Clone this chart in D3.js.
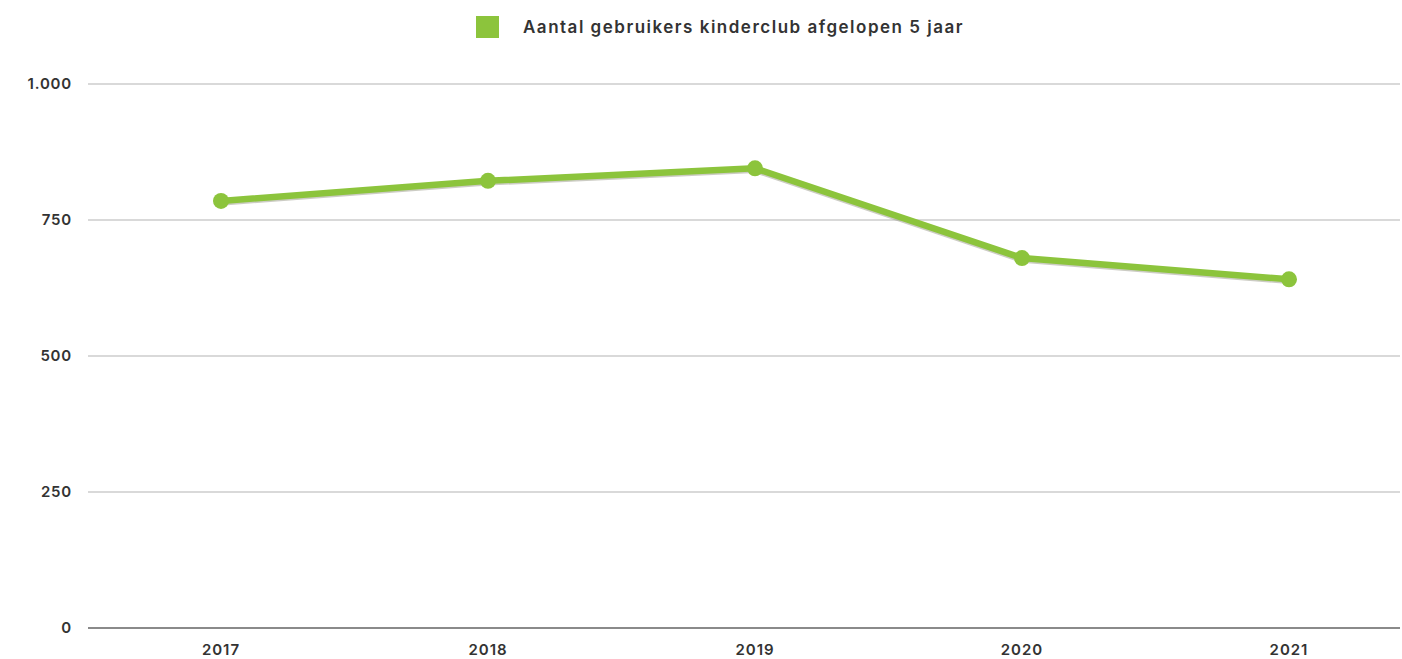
<!DOCTYPE html>
<html>
  <head>
    <meta charset="utf-8">
    <title>Aantal gebruikers kinderclub</title>
    <style>
      body { margin: 0; background: #fff; }
      svg { display: block; font-family: Inter, "Open Sans", sans-serif; }
    </style>
  </head>
  <body>
    <script src="https://d3js.org/d3.v7.min.js"></script>
    <script type="text/javascript">
      var years = ['2017', '2018', '2019', '2020', '2021'];
      var users = [785, 822, 845, 680, 641];
      var yTicks = [0, 250, 500, 750, 1000];
      var seriesName = 'Aantal gebruikers kinderclub afgelopen 5 jaar';

      var w = 1402;
      var h = 659;
      var green = '#8cc43c';

      // dutch thousands separator
      var nl = d3.formatLocale({ decimal: ',', thousands: '.', grouping: [3], currency: ['€', ''] });
      var fmt = nl.format(',');

      var svg = d3.select('body').append('svg').attr('width', w).attr('height', h);

      var xScale = d3.scalePoint()
        .domain(years)
        .range([87.5, 1422.5])
        .padding(0.5);

      var yScale = d3.scaleLinear()
        .domain([0, 1000])
        .range([628, 84]);

      // gridlines
      svg.append('g')
        .selectAll('line')
        .data(yTicks.slice(1))
        .enter()
        .append('line')
        .attr('x1', 88)
        .attr('x2', 1400)
        .attr('y1', function(d) { return yScale(d); })
        .attr('y2', function(d) { return yScale(d); })
        .attr('stroke', '#d9d9d9')
        .attr('stroke-width', 2);

      // baseline
      svg.append('line')
        .attr('x1', 88).attr('x2', 1400)
        .attr('y1', yScale(0)).attr('y2', yScale(0))
        .attr('stroke', '#8a8a8a')
        .attr('stroke-width', 2);

      // y labels
      svg.append('g')
        .selectAll('text')
        .data(yTicks)
        .enter()
        .append('text')
        .text(function(d) { return fmt(d); })
        .attr('x', 72)
        .attr('y', function(d) { return yScale(d); })
        .attr('dy', '0.35em')
        .attr('text-anchor', 'end')
        .attr('font-size', '15px')
        .attr('font-weight', 600)
        .attr('letter-spacing', '0.8px')
        .attr('fill', '#333');

      // x labels
      svg.append('g')
        .selectAll('text')
        .data(years)
        .enter()
        .append('text')
        .text(function(d) { return d; })
        .attr('x', function(d) { return xScale(d); })
        .attr('y', 650)
        .attr('dy', '0.35em')
        .attr('text-anchor', 'middle')
        .attr('font-size', '15px')
        .attr('font-weight', 600)
        .attr('letter-spacing', '1px')
        .attr('fill', '#333');

      var pts = years.map(function(y, i) { return [xScale(y), yScale(users[i])]; });
      var line = d3.line();

      // soft shadow under the line
      svg.append('path')
        .attr('d', line(pts))
        .attr('transform', 'translate(0,1.5)')
        .attr('fill', 'none')
        .attr('stroke', '#9a9a8a')
        .attr('stroke-width', 6.5)
        .attr('stroke-opacity', 0.5)
        .attr('stroke-linejoin', 'round');

      svg.append('path')
        .attr('d', line(pts))
        .attr('fill', 'none')
        .attr('stroke', green)
        .attr('stroke-width', 6.5)
        .attr('stroke-linejoin', 'round');

      svg.append('g')
        .selectAll('circle')
        .data(users)
        .enter()
        .append('circle')
        .attr('cx', function(d, i) { return xScale(years[i]); })
        .attr('cy', function(d) { return yScale(d); })
        .attr('r', 8)
        .attr('fill', green);

      // legend
      var legend = svg.append('g');
      legend.append('rect')
        .attr('x', 476).attr('y', 16)
        .attr('width', 23).attr('height', 22)
        .attr('fill', green);
      legend.append('text')
        .text(seriesName)
        .attr('x', 523)
        .attr('y', 27)
        .attr('dy', '0.35em')
        .attr('font-size', '17px')
        .attr('font-weight', 600)
        .attr('letter-spacing', '1.5px')
        .attr('fill', '#333');
    </script>
  </body>
</html>
